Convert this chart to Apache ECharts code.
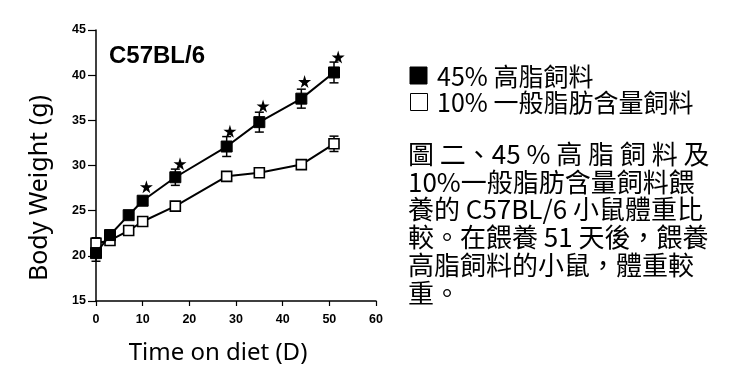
<!DOCTYPE html>
<html>
<head>
<meta charset="utf-8">
<script src="https://cdn.jsdelivr.net/npm/echarts@6/dist/echarts.min.js"></script>
<style>
html,body{margin:0;padding:0;background:#fff;}
#chart{width:739px;height:375px;}
</style>
</head>
<body>
<div id="chart"></div>
<script>
// ---- data ----
var days = [0, 3, 7, 10, 17, 28, 35, 44, 51];
var hfdMean = [20.3, 22.3, 24.5, 26.1, 28.7, 32.1, 34.8, 37.4, 40.3];
var hfdErr  = [0.9, 0.3, 0.3, 0.4, 0.9, 1.1, 1.1, 1.05, 1.15];
var lfdMean = [21.4, 21.7, 22.8, 23.8, 25.5, 28.8, 29.2, 30.1, 32.4];
var lfdErr  = [0.6, 0.2, 0.2, 0.3, 0.2, 0.3, 0.4, 0.5, 0.85];
var starX = [10.8, 18, 28.7, 35.8, 44.7, 51.9];
var starY = [27.65, 30.2, 33.8, 36.6, 39.3, 42.0];
var xTicks = [0, 10, 20, 30, 40, 50, 60];
var yTicks = [15, 20, 25, 30, 35, 40, 45];
var seriesNames = ['45% 高脂飼料', '10% 一般脂肪含量飼料'];
var strainLabel = 'C57BL/6';
var xTitle = 'Time on diet (D)';
var yTitle = 'Body Weight (g)';
var captionLines = [
  '圖 二、45 % 高 脂 飼 料 及',
  '10%一般脂肪含量飼料餵',
  '養的 C57BL/6 小鼠體重比',
  '較。在餵養 51 天後，餵養',
  '高脂飼料的小鼠，體重較',
  '重。'
];

function pairs(xs, ys) { return xs.map(function (x, i) { return [x, ys[i]]; }); }
function errData(xs, m, e) { return xs.map(function (x, i) { return [x, m[i] - e[i], m[i] + e[i]]; }); }

function errRender(params, api) {
  var x = api.value(0);
  var lo = api.coord([x, api.value(1)]);
  var hi = api.coord([x, api.value(2)]);
  var hw = 4.5;
  var st = { stroke: '#000', lineWidth: 1.5 };
  return {
    type: 'group',
    children: [
      { type: 'line', shape: { x1: lo[0], y1: lo[1], x2: hi[0], y2: hi[1] }, style: st },
      { type: 'line', shape: { x1: lo[0] - hw, y1: lo[1], x2: lo[0] + hw, y2: lo[1] }, style: st },
      { type: 'line', shape: { x1: hi[0] - hw, y1: hi[1], x2: hi[0] + hw, y2: hi[1] }, style: st }
    ]
  };
}

var starPath = 'path://M50,0 L61,35 L98,35 L68,57 L79,91 L50,70 L21,91 L32,57 L2,35 L39,35 Z';
var axisFont = { fontFamily: 'Liberation Sans', fontWeight: 'bold', fontSize: 12.5, color: '#000' };

var graphics = [
  { type: 'text', left: 109, top: 44, style: { text: strainLabel, font: 'bold 24px "Liberation Sans"', fill: '#000' } },
  { type: 'text', x: 40, y: 188, rotation: Math.PI / 2, style: { text: yTitle, font: '25px "Noto Sans"', fill: '#000', align: 'center', verticalAlign: 'middle' } },
  { type: 'text', x: 218, y: 353, style: { text: xTitle, font: '24px "Noto Sans"', fill: '#000', align: 'center', verticalAlign: 'middle' } },
  { type: 'rect', shape: { x: 410, y: 67, width: 17, height: 17 }, style: { fill: '#000', stroke: '#000', lineWidth: 1 } },
  { type: 'rect', shape: { x: 410.5, y: 93.5, width: 17, height: 17 }, style: { fill: '#fff', stroke: '#000', lineWidth: 1 } },
  { type: 'text', x: 437, y: 76, style: { text: seriesNames[0], font: '25px "Noto Sans CJK TC"', fill: '#000', verticalAlign: 'middle' } },
  { type: 'text', x: 437, y: 102, style: { text: seriesNames[1], font: '25px "Noto Sans CJK TC"', fill: '#000', verticalAlign: 'middle' } }
];
captionLines.forEach(function (t, i) {
  graphics.push({ type: 'text', x: 408, y: 154 + i * 27.8, style: { text: t, font: '26px "Noto Sans CJK TC"', fill: '#000', verticalAlign: 'middle' } });
});

var chart = echarts.init(document.getElementById('chart'), null, { renderer: 'canvas' });
chart.setOption({
  animation: false,
  backgroundColor: '#fff',
  grid: { left: 96, top: 30, width: 280, height: 271, containLabel: false },
  xAxis: {
    type: 'value', min: 0, max: 60, interval: 10,
    axisLine: { lineStyle: { color: '#000', width: 1.5 } },
    axisTick: { show: true, length: 5, lineStyle: { color: '#000', width: 1.2 } },
    axisLabel: Object.assign({ margin: 12, formatter: function (v) { return xTicks.indexOf(v) >= 0 ? String(v) : ''; } }, axisFont),
    splitLine: { show: false }
  },
  yAxis: {
    type: 'value', min: 15, max: 45, interval: 5,
    axisLine: { show: true, lineStyle: { color: '#000', width: 1.5 } },
    axisTick: { show: true, length: 8, lineStyle: { color: '#000', width: 1.2 } },
    axisLabel: Object.assign({ margin: 10, formatter: function (v) { return yTicks.indexOf(v) >= 0 ? String(v) : ''; } }, axisFont),
    splitLine: { show: false }
  },
  graphic: graphics,
  series: [
    { type: 'custom', name: 'hfdErr', renderItem: errRender, data: errData(days, hfdMean, hfdErr), z: 1, encode: { x: 0, y: [1, 2] } },
    { type: 'custom', name: 'lfdErr', renderItem: errRender, data: errData(days, lfdMean, lfdErr), z: 1, encode: { x: 0, y: [1, 2] } },
    {
      type: 'line', name: seriesNames[1], data: pairs(days, lfdMean), z: 3,
      symbol: 'rect', symbolSize: 10,
      lineStyle: { color: '#000', width: 2 },
      itemStyle: { color: '#fff', borderColor: '#000', borderWidth: 1.6 }
    },
    {
      type: 'line', name: seriesNames[0], data: pairs(days, hfdMean), z: 4,
      symbol: 'rect', symbolSize: 11,
      lineStyle: { color: '#000', width: 2 },
      itemStyle: { color: '#000', borderColor: '#000', borderWidth: 1 }
    },
    {
      type: 'scatter', name: 'p<0.05', data: pairs(starX, starY), z: 5,
      symbol: starPath, symbolSize: 13,
      itemStyle: { color: '#000', opacity: 1 }
    }
  ]
});
</script>
</body>
</html>
